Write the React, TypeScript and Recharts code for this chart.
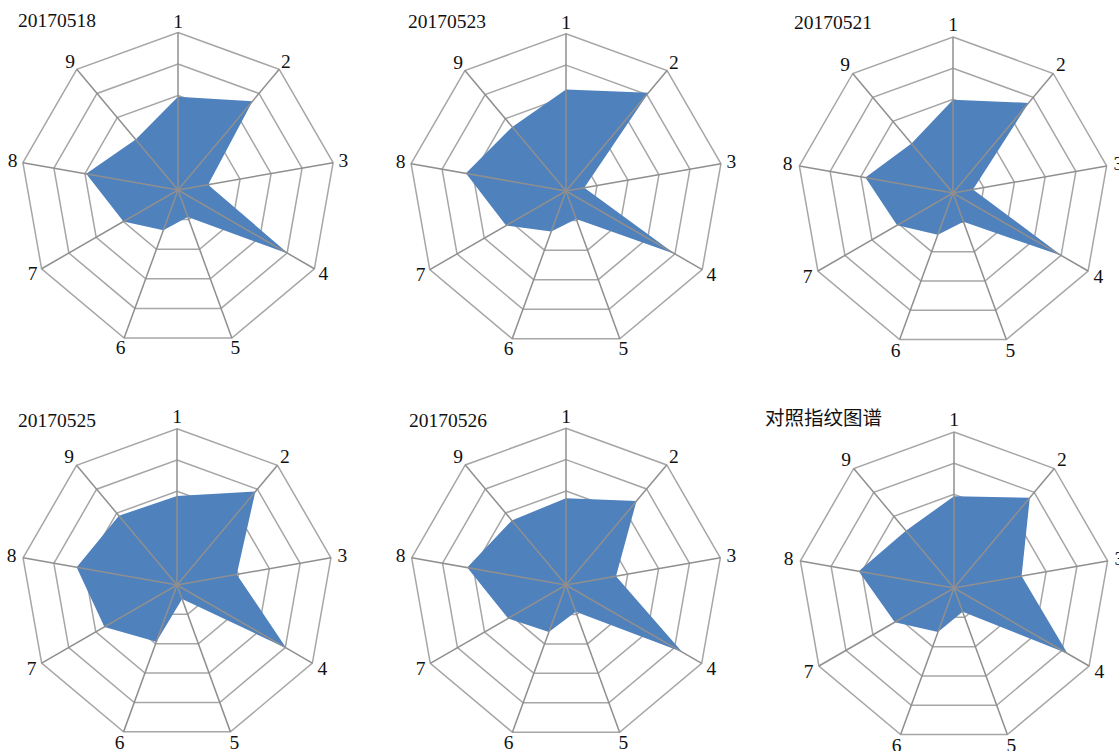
import React from "react";
import {
  PolarAngleAxis,
  PolarGrid,
  PolarRadiusAxis,
  Radar,
  RadarChart,
} from "recharts";

// peak labels round the radar
const peaks = ["1", "2", "3", "4", "5", "6", "7", "8", "9"];

// values (5 rings, 0..5)
const s20170518 = [2.96, 3.68, 0.97, 4.05, 0.91, 1.36, 2.0, 2.96, 2.09];
const s20170523 = [3.23, 4.08, 0.59, 4.0, 0.95, 1.37, 2.2, 3.23, 2.66];
const s20170521 = [2.99, 3.77, 0.65, 4.03, 0.98, 1.42, 2.07, 2.85, 2.07];
const s20170525 = [2.85, 3.9, 1.94, 4.04, 0.48, 1.93, 2.68, 3.26, 2.89];
const s20170526 = [2.77, 3.5, 1.62, 4.28, 0.91, 1.6, 2.13, 3.2, 2.69];
const sReference = [2.94, 3.78, 2.2, 4.2, 0.81, 1.5, 2.19, 3.1, 2.4];

const titles = ["20170518", "20170523", "20170521", "20170525", "20170526", "对照指纹图谱"];
const seriesValues = [s20170518, s20170523, s20170521, s20170525, s20170526, sReference];

// where each small chart sits on the page
const layout = [
  { cx: 177.7, cy: 190, r: 157.5, tx: 18, ty: 27.3 },
  { cx: 565.5, cy: 190.5, r: 157.3, tx: 408, ty: 28.3 },
  { cx: 953.3, cy: 192.7, r: 156, tx: 794, ty: 29.3 },
  { cx: 177, cy: 585.3, r: 156.3, tx: 18, ty: 426.7 },
  { cx: 565.7, cy: 585, r: 156.7, tx: 409, ty: 426.7 },
  { cx: 953.5, cy: 588.3, r: 156, tx: 765, ty: 425.4 },
];

const BOX = 400;
const C = BOX / 2;
const SERIF = '"Liberation Serif", "Times New Roman", serif';
const CJK = '"Noto Sans CJK SC", sans-serif';
const FONT = 19.5;

function PeakTick(props: any) {
  const { payload } = props;
  const a = (-payload.coordinate * Math.PI) / 180;
  const x = C + 168 * Math.cos(a);
  const y = C + 168 * Math.sin(a);
  return (
    <text
      x={x}
      y={y + FONT * 0.33}
      textAnchor="middle"
      fontFamily={SERIF}
      fontSize={FONT}
      fill="#111"
    >
      {payload.value}
    </text>
  );
}

function SmallRadar({ values, pos }: { values: number[]; pos: (typeof layout)[number] }) {
  const data = peaks.map((p, i) => ({ peak: p, v: values[i] }));
  return (
    <div
      style={{
        position: "absolute",
        left: pos.cx - C,
        top: pos.cy - C,
        width: BOX,
        height: BOX,
      }}
    >
      <RadarChart
        width={BOX}
        height={BOX}
        data={data}
        cx={C}
        cy={C}
        outerRadius={pos.r}
        margin={{ top: 0, right: 0, bottom: 0, left: 0 }}
      >
        <PolarGrid gridType="polygon" stroke="#a6a6a6" strokeWidth={1.5} radialLines={false} />
        <PolarRadiusAxis domain={[0, 5]} tickCount={6} tick={false} axisLine={false} />
        <PolarAngleAxis dataKey="peak" tick={PeakTick} tickLine={false} axisLine={false} />
        <Radar
          dataKey="v"
          fill="#4f81bd"
          fillOpacity={1}
          stroke="none"
          isAnimationActive={false}
        />
        <PolarGrid
          gridType="polygon"
          stroke="#8f8f8f"
          strokeWidth={1.5}
          polarRadius={[]}
          zIndex={500}
        />
      </RadarChart>
    </div>
  );
}

export default function App() {
  return (
    <div
      style={{
        position: "absolute",
        left: 0,
        top: 0,
        width: 1119,
        height: 751,
        background: "#fff",
        overflow: "hidden",
      }}
    >
      {seriesValues.map((vals, i) => (
        <SmallRadar key={titles[i]} values={vals} pos={layout[i]} />
      ))}
      <svg
        width={1119}
        height={751}
        style={{ position: "absolute", left: 0, top: 0, pointerEvents: "none" }}
      >
        {titles.map((t, i) => (
          <text
            key={t}
            x={layout[i].tx}
            y={layout[i].ty}
            fontFamily={i === 5 ? CJK : SERIF}
            fontSize={FONT}
            fill="#111"
          >
            {t}
          </text>
        ))}
      </svg>
    </div>
  );
}
